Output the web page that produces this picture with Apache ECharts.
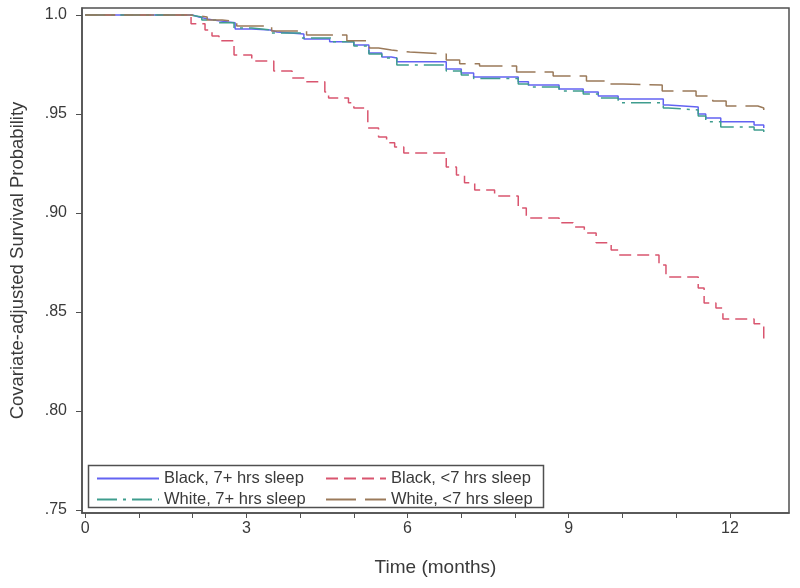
<!DOCTYPE html>
<html>
<head>
<meta charset="utf-8">
<script src="https://cdn.jsdelivr.net/npm/echarts@6/dist/echarts.min.js"></script>
<style>
html,body{margin:0;padding:0;background:#fff;}
#chart{width:800px;height:588px;}
</style>
</head>
<body>
<div id="chart"></div>
<script>
// Series names
var seriesNames = ["Black, 7+ hrs sleep", "Black, <7 hrs sleep", "White, 7+ hrs sleep", "White, <7 hrs sleep"];

// Black, 7+ hrs sleep
var black7Times = [0, 1.99, 2.12, 2.27, 2.49, 2.79, 3.10, 3.44, 3.57, 4.07, 4.55, 5.00, 5.28, 5.52, 5.70, 5.80, 6.72, 7.00, 7.23, 8.06, 8.25, 8.82, 9.27, 9.55, 9.92, 10.76, 10.85, 11.41, 11.55, 11.83, 12.45, 12.63];
var black7Surv  = [1.0, 0.9990, 0.9980, 0.9970, 0.9960, 0.9929, 0.9924, 0.9914, 0.9904, 0.9879, 0.9864, 0.9848, 0.9808, 0.9788, 0.9783, 0.9763, 0.9727, 0.9707, 0.9687, 0.9662, 0.9646, 0.9626, 0.9611, 0.9591, 0.9576, 0.9545, 0.9535, 0.9500, 0.9480, 0.9460, 0.9444, 0.9429];

// Black, <7 hrs sleep
var blackLt7Times = [0, 1.97, 2.23, 2.36, 2.49, 2.77, 3.10, 3.51, 3.85, 4.09, 4.46, 4.53, 4.90, 5.00, 5.26, 5.46, 5.61, 5.76, 5.93, 6.72, 6.91, 7.06, 7.25, 7.62, 8.06, 8.21, 8.82, 9.08, 9.29, 9.51, 9.79, 9.92, 10.68, 10.81, 11.41, 11.52, 11.74, 11.87, 12.45, 12.63];
var blackLt7Surv  = [1.0, 0.9955, 0.9924, 0.9894, 0.9869, 0.9798, 0.9768, 0.9717, 0.9682, 0.9662, 0.9611, 0.9581, 0.9556, 0.9530, 0.9429, 0.9384, 0.9354, 0.9333, 0.9303, 0.9232, 0.9192, 0.9152, 0.9116, 0.9086, 0.9025, 0.8975, 0.8950, 0.8929, 0.8899, 0.8849, 0.8813, 0.8788, 0.8737, 0.8677, 0.8621, 0.8546, 0.8520, 0.8465, 0.8440, 0.8359];

// White, 7+ hrs sleep
var white7Times = [0, 1.95, 2.17, 2.49, 2.77, 3.10, 3.47, 4.03, 4.59, 5.00, 5.28, 5.52, 5.80, 6.72, 7.00, 7.23, 8.06, 8.25, 8.82, 9.27, 9.55, 9.92, 10.76, 10.85, 11.41, 11.55, 11.83, 12.45, 12.63];
var white7Surv  = [1.0, 0.9990, 0.9975, 0.9960, 0.9934, 0.9924, 0.9909, 0.9884, 0.9864, 0.9843, 0.9803, 0.9783, 0.9747, 0.9717, 0.9697, 0.9679, 0.9651, 0.9636, 0.9616, 0.9601, 0.9581, 0.9556, 0.9530, 0.9520, 0.9490, 0.9460, 0.9434, 0.9419, 0.9399];

// White, <7 hrs sleep
var whiteLt7Times = [0, 1.95, 2.27, 2.55, 2.82, 3.47, 4.12, 4.87, 5.29, 5.46, 5.70, 6.04, 6.72, 6.97, 7.34, 8.03, 8.71, 9.33, 9.70, 10.01, 10.74, 11.37, 11.68, 11.93, 12.52, 12.63];
var whiteLt7Surv  = [1.0, 0.9990, 0.9975, 0.9965, 0.9944, 0.9919, 0.9899, 0.9869, 0.9833, 0.9823, 0.9813, 0.9803, 0.9773, 0.9753, 0.9742, 0.9712, 0.9692, 0.9667, 0.9651, 0.9646, 0.9616, 0.9591, 0.9566, 0.9540, 0.9530, 0.9520];

// Axis ticks
var xTickLabels = [0, 3, 6, 9, 12];
var xMinorTicks = [0, 1, 2, 3, 4, 5, 6, 7, 8, 9, 10, 11, 12];
var yTickValues = [0.75, 0.80, 0.85, 0.90, 0.95, 1.0];

function zip(t, v) { return t.map(function (x, i) { return [x, v[i]]; }); }

var colors = { blue: '#6363f2', red: '#d9556f', green: '#3f9d8e', brown: '#9b7a5a' };
var FONT = 'Liberation Sans, Arial, sans-serif';

var chart = echarts.init(document.getElementById('chart'), null, { renderer: 'canvas' });

function lineSeries(name, data, color, type, width) {
  return {
    name: name, type: 'line', step: 'end', data: data,
    showSymbol: false, symbol: 'none', animation: false,
    lineStyle: { color: color, width: width, type: type },
    itemStyle: { color: color }
  };
}

var legendCommon = {
  orient: 'vertical', top: 465, itemHeight: 14, itemGap: 4,
  itemStyle: { opacity: 0 },
  textStyle: { fontFamily: FONT, fontSize: 16.5, color: '#3a3a3a' }
};

var option = {
  backgroundColor: '#ffffff',
  animation: false,
  grid: { left: 80, right: 11, top: 8, bottom: 75, show: true, borderColor: '#505050', borderWidth: 1.5, containLabel: false },
  xAxis: {
    type: 'value', min: -0.06, max: 13.1,
    name: 'Time (months)', nameLocation: 'middle', nameGap: 45,
    nameTextStyle: { fontFamily: FONT, fontSize: 19, color: '#3a3a3a' },
    axisLine: { show: true, onZero: false, lineStyle: { color: '#505050', width: 1.5 } },
    axisTick: { show: true, length: 5, lineStyle: { color: '#505050' }, customValues: xMinorTicks },
    axisLabel: { show: true, customValues: xTickLabels, margin: 8, fontFamily: FONT, fontSize: 16, color: '#3a3a3a' },
    splitLine: { show: false }
  },
  yAxis: {
    type: 'value', min: 0.7485, max: 1.0035,
    name: 'Covariate-adjusted Survival Probability', nameLocation: 'middle', nameGap: 55,
    nameTextStyle: { fontFamily: FONT, fontSize: 18.5, color: '#3a3a3a' },
    axisLine: { show: true, onZero: false, lineStyle: { color: '#505050', width: 1.5 } },
    axisTick: { show: true, length: 6, lineStyle: { color: '#505050' }, customValues: yTickValues },
    axisLabel: {
      show: true, customValues: yTickValues, margin: 15, fontFamily: FONT, fontSize: 16, color: '#3a3a3a',
      formatter: function (v) { return v >= 0.999 ? '1.0' : '.' + Math.round(v * 100); }
    },
    splitLine: { show: false }
  },
  legend: [
    Object.assign({ data: [seriesNames[0], seriesNames[2]], left: 91, itemWidth: 62 }, legendCommon),
    Object.assign({ data: [seriesNames[1], seriesNames[3]], left: 320, itemWidth: 60 }, legendCommon)
  ],
  graphic: [
    { type: 'rect', left: 86, top: 463, shape: { width: 455, height: 42 }, style: { fill: 'none', stroke: '#505050', lineWidth: 1.5 }, z: 10 }
  ],
  series: [
    lineSeries(seriesNames[0], zip(black7Times, black7Surv), colors.blue, 'solid', 1.5),
    lineSeries(seriesNames[1], zip(blackLt7Times, blackLt7Surv), colors.red, [12, 6], 1.5),
    lineSeries(seriesNames[2], zip(white7Times, white7Surv), colors.green, [20, 6, 3, 6], 1.5),
    lineSeries(seriesNames[3], zip(whiteLt7Times, whiteLt7Surv), colors.brown, [30, 9], 1.5)
  ]
};
chart.setOption(option);
</script>
</body>
</html>
